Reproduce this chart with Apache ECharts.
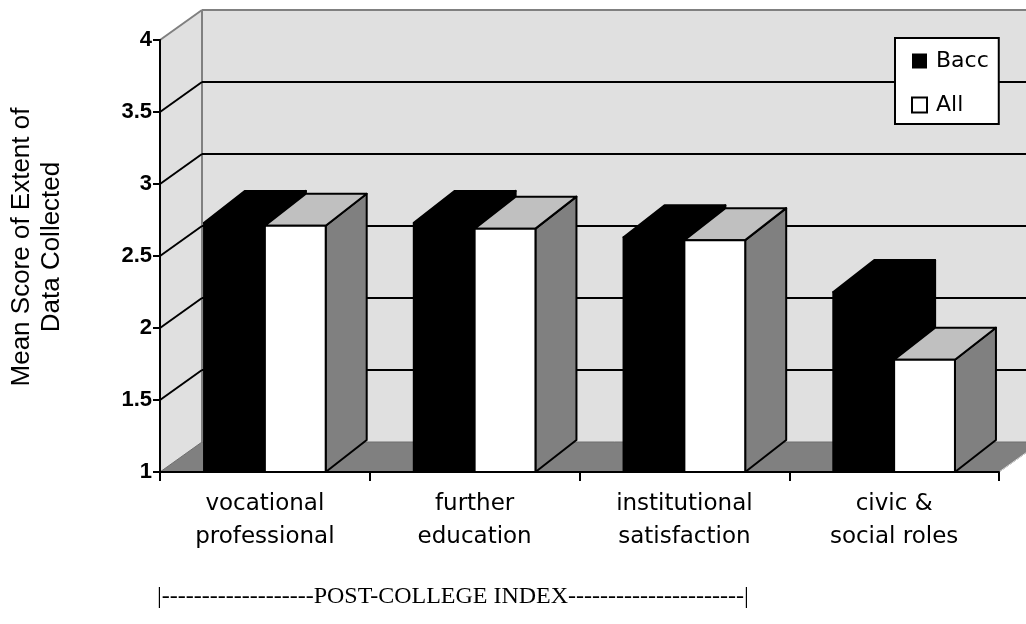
<!DOCTYPE html>
<html>
<head>
<meta charset="utf-8">
<script src="https://cdn.jsdelivr.net/npm/echarts@6/dist/echarts.min.js"></script>
<style>
  html, body { margin: 0; padding: 0; background: #fff; }
  #chart { width: 1026px; height: 624px; }
</style>
</head>
<body>
<div id="chart"></div>
<script>
// data
const categories = ["vocational\nprofessional", "further\neducation", "institutional\nsatisfaction", "civic &\nsocial roles"];
const baccValues = [2.73, 2.73, 2.63, 2.25];
const allValues = [2.71, 2.69, 2.61, 1.78];
const yTicks = [1, 1.5, 2, 2.5, 3, 3.5, 4];

const yMin = 1, yMax = 4;
// 3d depth offsets (walls and boxes)
const WDX = 42, WDY = -30;
const BDX = 41, BDY = -32;
const WALL = "#e0e0e0";

const chart = echarts.init(document.getElementById("chart"));

// left wall, back wall and floor
function renderWalls(params, api) {
    const cs = params.coordSys;
    const x0 = cs.x, x1 = cs.x + cs.width;
    const yTop = api.coord([0, yMax])[1];
    const yBot = api.coord([0, yMin])[1];
    const gray = { stroke: "#808080", lineWidth: 2 };
    return {
        type: "group",
        silent: true,
        children: [
            { type: "polygon", shape: { points: [[x0, yTop], [x0 + WDX, yTop + WDY], [x0 + WDX, yBot + WDY], [x0, yBot]] }, style: { fill: WALL } },
            { type: "rect", shape: { x: x0 + WDX, y: yTop + WDY, width: x1 - x0 + 10, height: yBot - yTop }, style: { fill: WALL } },
            { type: "polygon", shape: { points: [[x0, yBot], [x0 + WDX, yBot + WDY], [x1 + WDX, yBot + WDY], [x1, yBot]] }, style: { fill: "#808080", stroke: "#6e6e6e", lineWidth: 1 } },
            { type: "line", shape: { x1: x0, y1: yTop, x2: x0 + WDX, y2: yTop + WDY }, style: gray },
            { type: "line", shape: { x1: x0 + WDX, y1: yTop + WDY, x2: x1 + WDX, y2: yTop + WDY }, style: gray },
            { type: "line", shape: { x1: x0 + WDX, y1: yTop + WDY, x2: x0 + WDX, y2: yBot + WDY }, style: gray },
            { type: "line", shape: { x1: x1, y1: yBot, x2: x1 + WDX, y2: yBot + WDY }, style: { stroke: "#d8d8d8", lineWidth: 1 } }
        ]
    };
}

// gridlines on left wall and back wall
function renderGrid(params, api) {
    const v = api.value(1);
    if (v === yMin || v === yMax) return null;
    const cs = params.coordSys;
    const x0 = cs.x, x1 = cs.x + cs.width;
    const y = api.coord([0, v])[1];
    const st = { stroke: "#000", lineWidth: 2 };
    return {
        type: "group",
        silent: true,
        children: [
            { type: "line", shape: { x1: x0, y1: y, x2: x0 + WDX, y2: y + WDY }, style: st },
            { type: "line", shape: { x1: x0 + WDX, y1: y + WDY, x2: x1 + WDX + 10, y2: y + WDY }, style: st }
        ]
    };
}

// 3d box, side 0 = left of category centre, 1 = right
function boxRenderer(side, front, top, right) {
    return function (params, api) {
        const idx = api.value(0);
        const c = api.coord([idx, api.value(1)]);
        const b = api.coord([idx, yMin]);
        const bw = api.size([1, 0])[0] * 0.29;
        const xa = side === 0 ? c[0] - bw : c[0];
        const xb = xa + bw;
        const yt = c[1], yb = b[1];
        const edge = { stroke: "#000", lineWidth: 2, lineJoin: "round" };
        return {
            type: "group",
            children: [
                { type: "polygon", shape: { points: [[xb, yt], [xb + BDX, yt + BDY], [xb + BDX, yb + BDY], [xb, yb]] }, style: Object.assign({ fill: right }, edge) },
                { type: "polygon", shape: { points: [[xa, yt], [xa + BDX, yt + BDY], [xb + BDX, yt + BDY], [xb, yt]] }, style: Object.assign({ fill: top }, edge) },
                { type: "rect", shape: { x: xa, y: yt, width: bw, height: yb - yt }, style: Object.assign({ fill: front }, edge) }
            ]
        };
    };
}

const options = {
    animation: false,
    backgroundColor: "#fff",
    grid: { left: 160, right: 27, top: 40, bottom: 152 },
    legend: {
        orient: "vertical",
        left: 895,
        top: 38,
        padding: [12, 10, 8, 16],
        itemGap: 22,
        itemWidth: 15,
        itemHeight: 15,
        icon: "rect",
        backgroundColor: "#fff",
        borderColor: "#000",
        borderWidth: 2,
        borderRadius: 0,
        textStyle: { fontFamily: "DejaVu Sans", fontSize: 22, color: "#000", padding: [0, 0, 0, 4] },
        data: [
            { name: "Bacc", itemStyle: { color: "#000", borderWidth: 0 } },
            { name: "All", itemStyle: { color: "#fff", borderColor: "#000", borderWidth: 2 } }
        ]
    },
    xAxis: {
        type: "category",
        data: categories,
        boundaryGap: true,
        axisLine: { lineStyle: { color: "#000", width: 2 } },
        axisTick: { show: true, length: 9, lineStyle: { color: "#000", width: 2 } },
        axisLabel: { interval: 0, margin: 16, color: "#000", fontFamily: "DejaVu Sans", fontSize: 23, lineHeight: 33 },
        splitLine: { show: false },
        z: 5
    },
    yAxis: {
        type: "value",
        min: yMin,
        max: yMax,
        interval: 0.5,
        axisLine: { show: true, lineStyle: { color: "#000", width: 2 } },
        axisTick: { show: true, length: 7, lineStyle: { color: "#000", width: 2 } },
        axisLabel: { margin: 8, color: "#000", fontFamily: "Liberation Sans", fontWeight: "bold", fontSize: 22 },
        splitLine: { show: false },
        z: 5
    },
    graphic: [
        {
            type: "text",
            x: 37,
            y: 247,
            rotation: Math.PI / 2,
            style: {
                text: "Mean Score of Extent of\nData Collected",
                align: "center",
                verticalAlign: "middle",
                fontFamily: "Liberation Sans",
                fontSize: 26,
                lineHeight: 30,
                fill: "#000"
            }
        },
        {
            type: "text",
            left: 157,
            top: 585,
            style: {
                text: "|-------------------POST-COLLEGE INDEX----------------------|",
                fontFamily: "Liberation Serif",
                fontSize: 24,
                fill: "#000"
            }
        }
    ],
    series: [
        {
            type: "custom",
            name: "walls",
            silent: true,
            z: 0,
            renderItem: renderWalls,
            data: [[0, yMin]]
        },
        {
            type: "custom",
            name: "grid",
            silent: true,
            z: 1,
            renderItem: renderGrid,
            data: yTicks.map(function (v) { return [0, v]; })
        },
        {
            type: "custom",
            name: "Bacc",
            z: 3,
            itemStyle: { color: "#000" },
            renderItem: boxRenderer(0, "#000", "#000", "#000"),
            encode: { x: 0, y: 1 },
            data: baccValues.map(function (v, i) { return [i, v]; })
        },
        {
            type: "custom",
            name: "All",
            z: 4,
            itemStyle: { color: "#fff", borderColor: "#000", borderWidth: 2 },
            renderItem: boxRenderer(1, "#fff", "#c0c0c0", "#808080"),
            encode: { x: 0, y: 1 },
            data: allValues.map(function (v, i) { return [i, v]; })
        }
    ]
};

chart.setOption(options);
window.addEventListener("resize", function () {
    chart.resize();
});
</script>
</body>
</html>
